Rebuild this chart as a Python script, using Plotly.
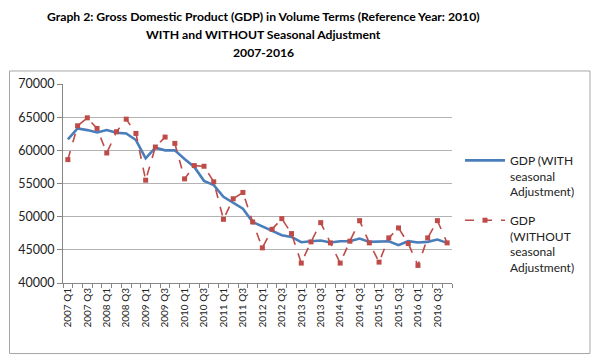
import plotly.graph_objects as go

quarters = [f"{y} Q{q}" for y in range(2007, 2017) for q in range(1, 5)]
gdp_sa = [61650, 63300, 63050, 62700, 63050, 62650, 62550, 61550, 58800, 60400,
          60000, 60000, 58700, 57500, 55400, 54750, 53000, 52100, 51200, 49200,
          48500, 47800, 47200, 46950, 46150, 46300, 46400, 46100, 46300, 46300,
          46700, 46200, 46300, 46300, 45700, 46300, 46100, 46200, 46550, 46050]
gdp_nsa = [58600, 63700, 64900, 63300, 59600, 62800, 64700, 62550, 55500, 60500,
           62000, 61050, 55700, 57700, 57600, 55250, 49600, 52700, 53650, 49200,
           45300, 48100, 49700, 47450, 43000, 46200, 49100, 46050, 43000, 46300,
           49400, 46050, 43150, 46800, 48300, 45950, 42650, 46800, 49400, 46050]
yticks = [40000, 45000, 50000, 55000, 60000, 65000, 70000]
title_lines = ["Graph 2: Gross Domestic Product (GDP) in Volume Terms (Reference Year: 2010)",
               "WITH and WITHOUT Seasonal Adjustment",
               "2007-2016"]

FONT = "Lato"
xpos = list(range(len(quarters)))

# page body has an 8px default margin: work in window pixels, offset by it
OFF = 8
W, H = 600 - OFF, 360 - OFF
L, T = 63 - OFF, 84 - OFF
R = W - (452 - OFF)
B = H - (282.6 - OFF)
pw, ph = W - L - R, H - T - B

def px(x):
    return (x - OFF - L) / pw

def py(y):
    return (T + ph - (y - OFF)) / ph

fig = go.Figure()
fig.add_trace(go.Scatter(
    x=xpos, y=gdp_sa, mode="lines", legendgroup="sa",
    name="GDP (WITH<br>seasonal<br>Adjustment)",
    line=dict(color="#4a7ebb", width=2.6),
))
fig.add_trace(go.Scatter(
    x=xpos, y=gdp_nsa, mode="lines+markers", legendgroup="nsa",
    name="GDP<br>(WITHOUT<br>seasonal<br>Adjustment)",
    line=dict(color="#be4b48", width=1.6, dash="dash"),
    marker=dict(symbol="square", size=5, color="#be4b48"),
))

annotations = []
for line, yc in zip(title_lines, [17, 35, 53]):
    annotations.append(dict(
        text=f"<b>{line}</b>", x=px(263), y=py(yc), xref="paper", yref="paper",
        xanchor="center", yanchor="middle", showarrow=False,
        font=dict(family=FONT, size=12.2, color="#000000"),
    ))

fig.update_layout(
    width=W, height=H,
    margin=dict(l=L, r=R, t=T, b=B, autoexpand=False),
    paper_bgcolor="white", plot_bgcolor="white",
    font=dict(family=FONT, color="#222222"),
    showlegend=True,
    legend=dict(
        x=px(460), y=py(146), xanchor="left", yanchor="top",
        font=dict(family=FONT, size=12, color="#222222"),
        valign="top", tracegroupgap=10, itemwidth=40,
        bgcolor="rgba(0,0,0,0)",
    ),
    annotations=annotations,
    shapes=[dict(
        type="rect", xref="paper", yref="paper",
        x0=px(9.5), x1=px(590), y0=py(353), y1=py(71),
        line=dict(color="#a6a6a6", width=1), fillcolor="rgba(0,0,0,0)",
        layer="below",
    )],
)
fig.update_xaxes(
    range=[-0.5, len(quarters) - 0.5],
    tickvals=xpos[::2], ticktext=quarters[::2], tickangle=-90,
    ticks="", showgrid=False, zeroline=False,
    showline=True, linecolor="#868686", linewidth=1,
    tickfont=dict(family=FONT, size=10, color="#222222"),
    minor=dict(tick0=-0.5, dtick=1, ticks="outside", ticklen=4,
               tickcolor="#868686", showgrid=False),
)
fig.update_yaxes(
    range=[40000, 70000], tickvals=yticks, ticktext=[str(v) for v in yticks],
    showgrid=True, gridcolor="#b3b3b3", gridwidth=1, zeroline=False,
    showline=True, linecolor="#868686", linewidth=1,
    ticks="outside", ticklen=5, tickcolor="#868686",
    tickfont=dict(family=FONT, size=12.5, color="#222222"),
)

fig.write_html("out.html")
